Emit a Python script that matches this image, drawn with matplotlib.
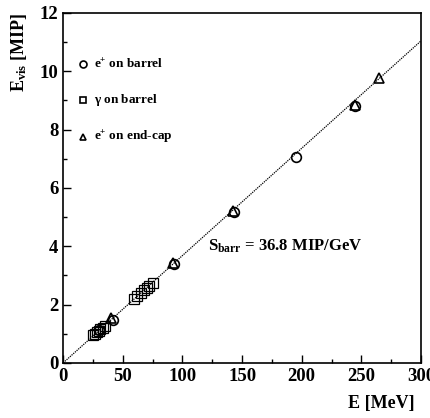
import numpy as np
import matplotlib
matplotlib.use('Agg')
from matplotlib import pyplot as plt
from matplotlib.ticker import MultipleLocator

plt.rcParams['font.family'] = ['Liberation Serif', 'DejaVu Serif']
plt.rcParams['font.weight'] = 'bold'
plt.rcParams['mathtext.fontset'] = 'custom'
plt.rcParams['mathtext.rm'] = 'Liberation Serif:bold'
plt.rcParams['mathtext.it'] = 'Liberation Serif:bold'
plt.rcParams['mathtext.bf'] = 'Liberation Serif:bold'

# e+ on barrel
e_barrel_x = [30, 42, 93, 143, 195, 245]
e_barrel_y = [1.12, 1.48, 3.4, 5.18, 7.05, 8.82]
# gamma on barrel
g_barrel_x = [25, 27, 28, 30, 31, 33, 35, 59, 62, 65, 68, 70, 72, 75]
g_barrel_y = [0.95, 1.0, 1.05, 1.1, 1.15, 1.2, 1.25, 2.2, 2.28, 2.4, 2.5, 2.58, 2.65, 2.75]
# e+ on end-cap
e_endcap_x = [40, 92, 142, 245, 265]
e_endcap_y = [1.55, 3.42, 5.2, 8.85, 9.78]

slope = 36.8  # MIP/GeV
fit_x = np.array([0, 300])
fit_y = slope * fit_x / 1000.0

fig = plt.figure(figsize=(4.30, 4.18), dpi=100)
ax = fig.add_axes([0.147, 0.132, 0.832, 0.837])

ax.plot(fit_x, fit_y, color='black', linestyle=(0, (1, 0.8)), linewidth=0.9)
ax.plot(e_barrel_x, e_barrel_y, 'o', mfc='none', mec='black', ms=7, mew=1.2)
ax.plot(g_barrel_x, g_barrel_y, 's', mfc='none', mec='black', ms=6.5, mew=0.9)
ax.plot(e_endcap_x, e_endcap_y, '^', mfc='none', mec='black', ms=6.5, mew=1.2)

ax.set_xlim(0, 300)
ax.set_ylim(0, 12)
ax.xaxis.set_major_locator(MultipleLocator(50))
ax.xaxis.set_minor_locator(MultipleLocator(25))
ax.yaxis.set_major_locator(MultipleLocator(2))
ax.yaxis.set_minor_locator(MultipleLocator(1))
ax.tick_params(which='both', direction='in', top=False, right=False, labelsize=13.5)
ax.tick_params(which='major', length=6, width=1)
ax.tick_params(which='minor', length=3, width=1)
for lab in ax.get_xticklabels() + ax.get_yticklabels():
    lab.set_fontweight('bold')
for s in ax.spines.values():
    s.set_linewidth(1.2)

# legend, hand placed
leg_y = [10.25, 9.0, 7.75]
leg_sym = ['o', 's', '^']
leg_txt = ['e$^{+}$ on barrel', r'$\gamma$ on barrel', 'e$^{+}$ on end-cap']
for yy, m, t in zip(leg_y, leg_sym, leg_txt):
    ax.plot([17], [yy], m, mfc='none', mec='black', ms=5, mew=1.2, clip_on=False)
    ax.text(26, yy, t, fontsize=9.5, fontweight='bold', va='center', ha='left')

ax.text(121, 3.85, r'S$_{\mathrm{barr}}$ = 36.8 MIP/GeV', fontsize=12,
        fontweight='bold', ha='left', va='baseline')

fig.text(0.045, 0.97, r'E$_{\mathrm{vis}}$ [MIP]', rotation=90, fontsize=13,
         fontweight='bold', ha='center', va='top')
fig.text(0.965, 0.015, 'E [MeV]', fontsize=13, fontweight='bold', ha='right', va='bottom')

fig.savefig('out.png', dpi=100)
